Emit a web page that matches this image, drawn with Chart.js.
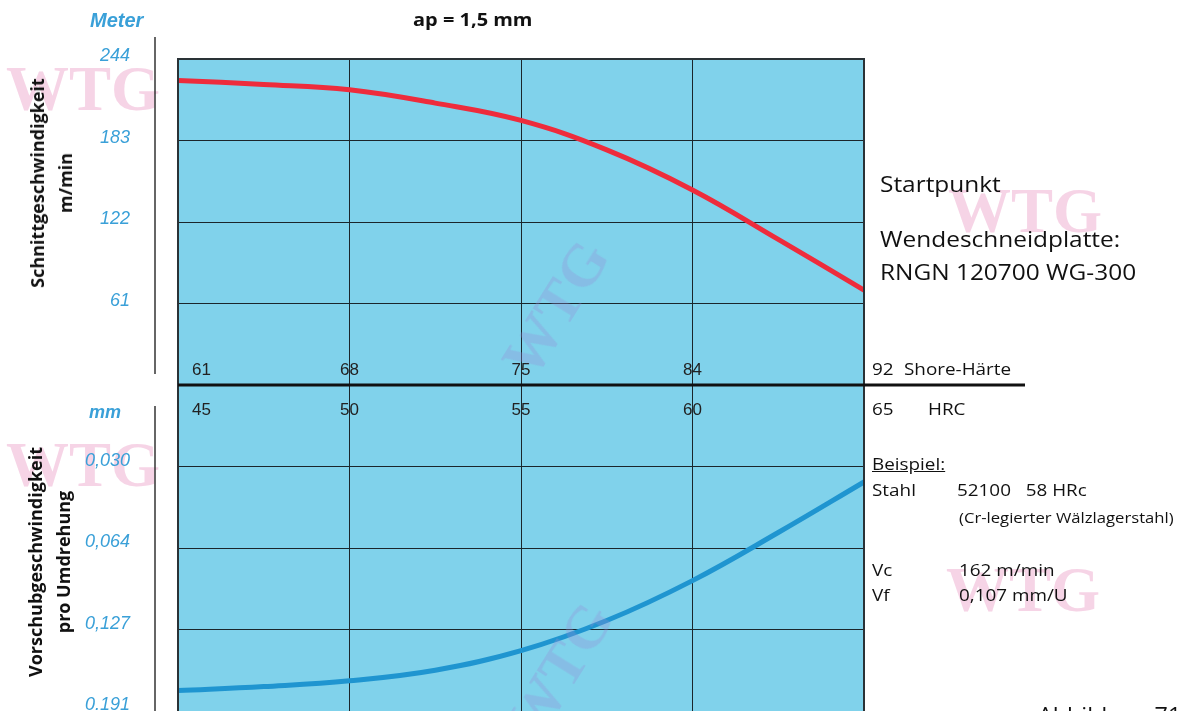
<!DOCTYPE html>
<html>
<head>
<meta charset="utf-8">
<script src="https://cdn.jsdelivr.net/npm/chart.js@4/dist/chart.umd.min.js"></script>
<style>
  html, body { margin: 0; padding: 0; background: #fff; }
  body { width: 1180px; height: 711px; overflow: hidden; position: relative; }
  canvas { position: absolute; left: 0; }
  #speedChart { top: 0; }
  #feedChart { top: 375px; }
  .t { position: absolute; white-space: nowrap; line-height: 1; font-family: "Open Sans", sans-serif; color: #111; }
  .w { transform: scaleX(1.11); transform-origin: left center; }
  .wm { position: absolute; white-space: nowrap; line-height: 1; font-family: "Liberation Serif", serif; font-weight: bold; }
</style>
</head>
<body>
<div class="wm" style="left:6px; top:58px; font-size:63px; color:rgba(236,160,200,0.45);">WTG</div>
<div class="wm" style="left:948px; top:180px; font-size:63px; color:rgba(236,160,200,0.45);">WTG</div>
<div class="wm" style="left:6px; top:434px; font-size:63px; color:rgba(236,160,200,0.45);">WTG</div>
<div class="wm" style="left:946px; top:559px; font-size:63px; color:rgba(236,160,200,0.45);">WTG</div>

<canvas id="speedChart" width="1180" height="400"></canvas>
<canvas id="feedChart" width="1180" height="355"></canvas>

<div class="wm" style="left:482px; top:278px; font-size:60px; color:rgba(150,140,215,0.3); transform:rotate(-58deg);">WTG</div>
<div class="wm" style="left:486px; top:640px; font-size:60px; color:rgba(150,140,215,0.3); transform:rotate(-58deg);">WTG</div>

<div class="t w" style="left:413px; top:10px; font-size:18px; font-weight:bold;">ap = 1,5 mm</div>
<div class="t" style="left:90px; top:10px; font-size:20px; font-weight:bold; font-style:italic; color:#3aa0d8; font-family:'Liberation Sans', sans-serif;">Meter</div>
<div class="t" style="left:89px; top:403px; font-size:18px; font-weight:bold; font-style:italic; color:#3aa0d8; font-family:'Liberation Sans', sans-serif;">mm</div>

<div class="t" style="left:51px; top:183px; font-size:18px; font-weight:bold; text-align:center; line-height:28px; transform:translate(-50%,-50%) rotate(-90deg);">Schnittgeschwindigkeit<br>m/min</div>
<div class="t" style="left:49px; top:562px; font-size:18px; font-weight:bold; text-align:center; line-height:28px; transform:translate(-50%,-50%) rotate(-90deg);">Vorschubgeschwindigkeit<br>pro Umdrehung</div>

<div class="t w" style="left:880px; top:172px; font-size:22px;">Startpunkt</div>
<div class="t w" style="left:880px; top:227px; font-size:22px;">Wendeschneidplatte:</div>
<div class="t w" style="left:880px; top:260px; font-size:22px;">RNGN 120700 WG-300</div>

<div class="t w" style="left:872px; top:455px; font-size:17px; text-decoration:underline;">Beispiel:</div>
<div class="t w" style="left:872px; top:481px; font-size:17px;">Stahl</div>
<div class="t w" style="left:957px; top:481px; font-size:17px;">52100&nbsp;&nbsp;&nbsp;58 HRc</div>
<div class="t w" style="left:959px; top:510px; font-size:15px;">(Cr-legierter Wälzlagerstahl)</div>
<div class="t w" style="left:872px; top:561px; font-size:17px;">Vc</div>
<div class="t w" style="left:959px; top:561px; font-size:17px;">162 m/min</div>
<div class="t w" style="left:872px; top:586px; font-size:17px;">Vf</div>
<div class="t w" style="left:959px; top:586px; font-size:17px;">0,107 mm/U</div>
<div class="t w" style="left:1038px; top:705px; font-size:21px;">Abbildung 71</div>

<script>
// Härte (HRC) als gemeinsame x-Achse
const hrc = [45, 47.5, 50, 52.5, 55, 57.5, 60, 62.5, 65];
// Schnittgeschwindigkeit in m/min
const cuttingSpeed = [228, 225, 221, 211, 198, 176, 146, 109, 71];
// Vorschub: Position auf der (nicht linearen) mm-Skala, 0 = oben, 4 = unten
const feedPos = [3.75, 3.70, 3.63, 3.50, 3.26, 2.89, 2.40, 1.81, 1.19];

const hrcTicks = [45, 50, 55, 60, 65];
const shoreTicks = [61, 68, 75, 84, 92];
const speedTicks = [61, 122, 183, 244];
const feedTicks = [1, 2, 3, 4];
const feedTickLabels = ['0,030', '0,064', '0,127', '0.191'];

const panelColor = '#80d2eb';
const gridColor = '#1b262b';
const tickBlue = '#3aa0d8';
const narrow = '"Liberation Sans Narrow", "Liberation Sans", sans-serif';

const panelBg = {
    id: 'panelBg',
    beforeDraw(chart) {
        const { ctx, chartArea: a } = chart;
        ctx.save();
        ctx.fillStyle = panelColor;
        ctx.fillRect(a.left, a.top, a.right - a.left, a.bottom - a.top);
        ctx.restore();
    }
};

function valueLabels(chart, values, labels, dy) {
    const { ctx, chartArea: a } = chart;
    const ys = chart.scales.y;
    ctx.save();
    ctx.font = 'italic 18px ' + narrow;
    ctx.fillStyle = tickBlue;
    ctx.textAlign = 'right';
    ctx.textBaseline = 'middle';
    values.forEach((v, i) => {
        ctx.fillText(labels[i], a.left - 48, ys.getPixelForValue(v) + dy);
    });
    ctx.restore();
}

// breiter laufende Schrift rechts neben dem Diagramm
function wideText(ctx, text, x, y) {
    ctx.save();
    ctx.translate(x, y);
    ctx.scale(1.11, 1);
    ctx.font = '17px "Open Sans"';
    ctx.fillStyle = '#111';
    ctx.textAlign = 'left';
    ctx.textBaseline = 'middle';
    ctx.fillText(text, 0, 0);
    ctx.restore();
}

function hardnessLabels(chart, names, y, tail) {
    const { ctx, chartArea: a } = chart;
    const xs = chart.scales.x;
    ctx.save();
    ctx.textBaseline = 'middle';
    names.forEach((n, i) => {
        const px = xs.getPixelForValue(hrcTicks[i]);
        if (i === names.length - 1) {
            wideText(ctx, n, px + 8, y);
        } else {
            ctx.font = '17px ' + narrow;
            ctx.fillStyle = '#222';
            ctx.textAlign = i === 0 ? 'left' : 'center';
            ctx.fillText(n, i === 0 ? px + 14 : px, y);
        }
    });
    ctx.restore();
    wideText(ctx, tail.text, a.right + tail.dx, y);
}

const speedDecor = {
    id: 'speedDecor',
    afterDraw(chart) {
        const { ctx, chartArea: a } = chart;
        ctx.save();
        ctx.strokeStyle = '#333';
        ctx.lineWidth = 1.5;
        ctx.beginPath();
        ctx.moveTo(a.left - 23, a.top - 22);
        ctx.lineTo(a.left - 23, a.bottom - 11);
        ctx.stroke();
        ctx.strokeStyle = '#2a3236';
        ctx.lineWidth = 2;
        ctx.beginPath();
        ctx.moveTo(a.left, a.bottom);
        ctx.lineTo(a.left, a.top);
        ctx.lineTo(a.right, a.top);
        ctx.lineTo(a.right, a.bottom);
        ctx.stroke();
        ctx.restore();
        valueLabels(chart, speedTicks, speedTicks.map(String), -3);
        hardnessLabels(chart, shoreTicks.map(String), a.bottom - 15, { text: 'Shore-Härte', dx: 40 });
    }
};

const feedDecor = {
    id: 'feedDecor',
    afterDraw(chart) {
        const { ctx, chartArea: a } = chart;
        ctx.save();
        ctx.strokeStyle = '#333';
        ctx.lineWidth = 1.5;
        ctx.beginPath();
        ctx.moveTo(a.left - 23, a.top + 21);
        ctx.lineTo(a.left - 23, a.bottom + 5);
        ctx.stroke();
        ctx.strokeStyle = '#2a3236';
        ctx.lineWidth = 2;
        ctx.beginPath();
        ctx.moveTo(a.left, a.top);
        ctx.lineTo(a.left, a.bottom + 5);
        ctx.moveTo(a.right, a.top);
        ctx.lineTo(a.right, a.bottom + 5);
        ctx.stroke();
        ctx.strokeStyle = '#111';
        ctx.lineWidth = 3;
        ctx.beginPath();
        ctx.moveTo(a.left, a.top);
        ctx.lineTo(a.right + 161, a.top);
        ctx.stroke();
        ctx.restore();
        valueLabels(chart, feedTicks, feedTickLabels, -6);
        hardnessLabels(chart, hrcTicks.map(String), a.top + 25, { text: 'HRC', dx: 64 });
    }
};

function hiddenTicks(extra) {
    return Object.assign({
        ticks: { display: false },
        grid: { color: gridColor, lineWidth: 1, drawTicks: false },
        border: { display: false }
    }, extra);
}

new Chart(document.getElementById('speedChart'), {
    type: 'line',
    data: {
        datasets: [{
            data: hrc.map((x, i) => ({ x: x, y: cuttingSpeed[i] })),
            borderColor: '#ee2c3c',
            borderWidth: 5,
            borderCapStyle: 'round',
            pointRadius: 0,
            tension: 0.4
        }]
    },
    options: {
        responsive: false,
        animation: false,
        layout: { padding: { left: 178, right: 316, top: 59, bottom: 15 } },
        plugins: { legend: { display: false }, tooltip: { enabled: false } },
        scales: {
            x: hiddenTicks({ type: 'linear', min: 45, max: 65, afterBuildTicks: s => { s.ticks = hrcTicks.map(v => ({ value: v })); } }),
            y: hiddenTicks({ min: 0, max: 244, afterBuildTicks: s => { s.ticks = [0].concat(speedTicks).map(v => ({ value: v })); } })
        }
    },
    plugins: [panelBg, speedDecor]
});

new Chart(document.getElementById('feedChart'), {
    type: 'line',
    data: {
        datasets: [{
            data: hrc.map((x, i) => ({ x: x, y: feedPos[i] })),
            borderColor: '#1f95d0',
            borderWidth: 5,
            borderCapStyle: 'round',
            pointRadius: 0,
            tension: 0.4
        }]
    },
    options: {
        responsive: false,
        animation: false,
        layout: { padding: { left: 178, right: 316, top: 10, bottom: 19 } },
        plugins: { legend: { display: false }, tooltip: { enabled: false } },
        scales: {
            x: hiddenTicks({ type: 'linear', min: 45, max: 65, afterBuildTicks: s => { s.ticks = hrcTicks.map(v => ({ value: v })); } }),
            y: hiddenTicks({ min: 0, max: 4, reverse: true, afterBuildTicks: s => { s.ticks = [0].concat(feedTicks).map(v => ({ value: v })); } })
        }
    },
    plugins: [panelBg, feedDecor]
});
</script>
</body>
</html>
